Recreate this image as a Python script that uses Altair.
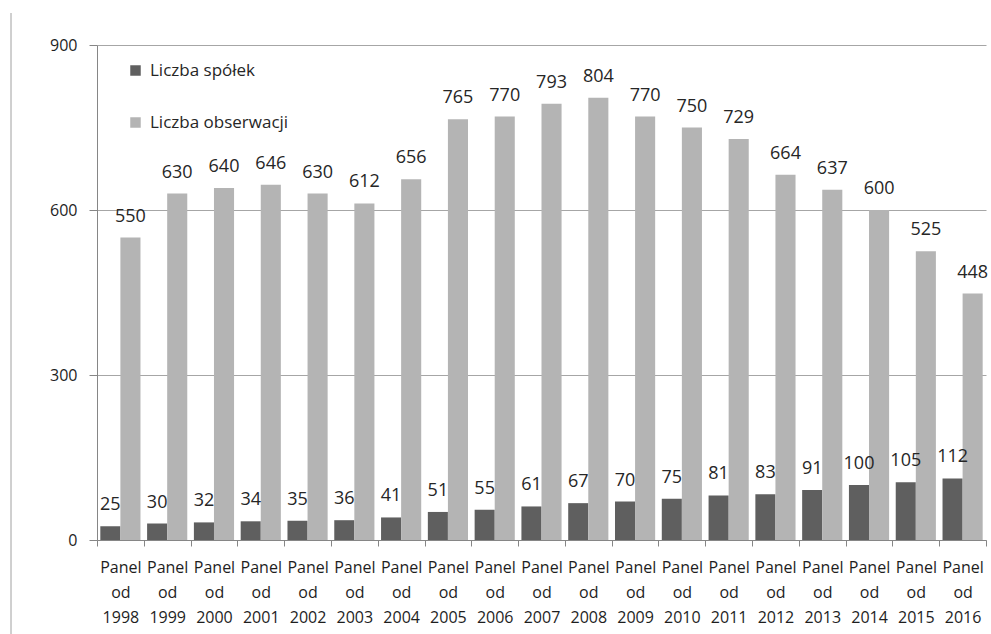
import altair as alt
import pandas as pd

# Panels (x categories) and the two series drawn for each
panels = [
    "Panel od 1998", "Panel od 1999", "Panel od 2000", "Panel od 2001",
    "Panel od 2002", "Panel od 2003", "Panel od 2004", "Panel od 2005",
    "Panel od 2006", "Panel od 2007", "Panel od 2008", "Panel od 2009",
    "Panel od 2010", "Panel od 2011", "Panel od 2012", "Panel od 2013",
    "Panel od 2014", "Panel od 2015", "Panel od 2016",
]
series = ["Liczba spółek", "Liczba obserwacji"]
liczba_spolek = [25, 30, 32, 34, 35, 36, 41, 51, 55, 61, 67, 70, 75, 81, 83, 91, 100, 105, 112]
liczba_obserwacji = [550, 630, 640, 646, 630, 612, 656, 765, 770, 793, 804, 770, 750, 729, 664, 637, 600, 525, 448]
y_ticks = [0, 300, 600, 900]

rows = []
for i, p in enumerate(panels):
    rows.append({"panel": p, "seria": series[0], "wartosc": liczba_spolek[i]})
    rows.append({"panel": p, "seria": series[1], "wartosc": liczba_obserwacji[i]})
df = pd.DataFrame(rows)

FONT = "Open Sans"
AXIS_GREY = "#868686"

x_enc = alt.X(
    "panel:N",
    sort=panels,
    scale=alt.Scale(paddingInner=0, paddingOuter=0),
    axis=alt.Axis(
        title=None,
        labelAngle=0,
        tickBand="extent",
        tickSize=6,
        labelExpr="split(datum.label, ' ')",
        labelLineHeight=25,
        labelFontSize=16,
        labelPadding=13,
        labelFont=FONT,
        labelColor="#1e1e1e",
        grid=False,
    ),
)
xoff_enc = alt.XOffset(
    "seria:N", sort=series, scale=alt.Scale(paddingInner=0, paddingOuter=0.165)
)
y_enc = alt.Y(
    "wartosc:Q",
    scale=alt.Scale(domain=[0, 900]),
    axis=alt.Axis(
        title=None,
        values=y_ticks,
        tickSize=8,
        labelPadding=12,
        labelFontSize=16,
        labelFont=FONT,
        labelColor="#1e1e1e",
        grid=True,
    ),
)

base = alt.Chart(df)

bars = base.mark_bar().encode(
    x=x_enc,
    xOffset=xoff_enc,
    y=y_enc,
    color=alt.Color(
        "seria:N",
        sort=series,
        scale=alt.Scale(domain=series, range=["#5f5f5f", "#b4b4b4"]),
        legend=alt.Legend(
            title=None,
            orient="none",
            legendX=30,
            legendY=17,
            direction="vertical",
            symbolType="square",
            symbolSize=110,
            symbolStrokeWidth=0,
            labelFontSize=17,
            labelFont=FONT,
            labelColor="#262626",
            labelOffset=6,
            rowPadding=34,
            padding=0,
        ),
    ),
)

labels = base.mark_text(
    baseline="alphabetic", dy=-16, fontSize=18, font=FONT, color="#262626"
).encode(x=x_enc, xOffset=xoff_enc, y=y_enc, text="wartosc:Q")

# thin frame line running down the left side of the figure
frame = alt.Chart(pd.DataFrame({"k": [0]})).mark_rule(
    color="#a0a0a0", strokeWidth=1
).encode(x=alt.value(-86), y=alt.value(-32), y2=alt.value(600))

chart = (
    alt.layer(bars, labels, frame)
    .properties(
        width=889,
        height=495,
        autosize="none",
        padding={"left": 97, "top": 45, "right": 5, "bottom": 94},
    )
    .configure_view(strokeWidth=0)
    .configure_axis(
        domainColor=AXIS_GREY,
        tickColor=AXIS_GREY,
        gridColor="#a6a6a6",
        domainWidth=1,
    )
)

chart.save("out.html", embed_options={"renderer": "svg", "actions": False})
